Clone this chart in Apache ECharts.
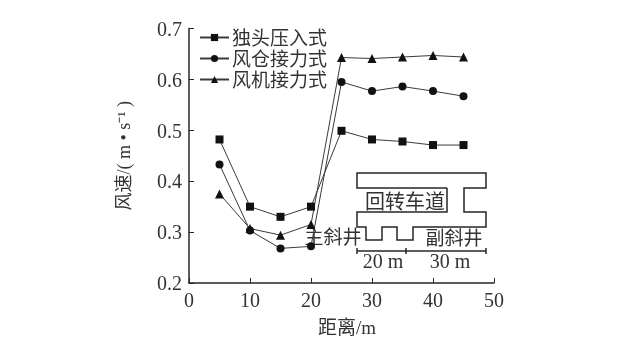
<!DOCTYPE html>
<html>
<head>
<meta charset="utf-8">
<style>html,body{margin:0;padding:0;background:#fff}#c{width:640px;height:362px}</style>
<script src="https://cdn.jsdelivr.net/npm/echarts@6/dist/echarts.min.js"></script>
</head>
<body>
<div id="c"></div>
<script>
var distances = [5, 10, 15, 20, 25, 30, 35, 40, 45];
var seriesNames = ['独头压入式', '风仓接力式', '风机接力式'];
var duTou = [0.482, 0.350, 0.330, 0.350, 0.499, 0.482, 0.478, 0.471, 0.471];
var fengCang = [0.433, 0.303, 0.268, 0.272, 0.595, 0.577, 0.586, 0.577, 0.567];
var fengJi = [0.375, 0.307, 0.294, 0.315, 0.643, 0.641, 0.644, 0.647, 0.644];

function pairs(v) { return v.map(function (y, i) { return [distances[i], y]; }); }

var LATIN = '"Liberation Serif", "Noto Sans CJK SC", serif';
var CJK = '"Noto Sans CJK SC", "Liberation Serif", sans-serif';
var INK = '#262626';

function mkSeries(name, values, symbol, size) {
  return {
    name: name, type: 'line', data: pairs(values), symbol: symbol, symbolSize: size,
    showAllSymbol: true, animation: false,
    lineStyle: { color: '#3a3a3a', width: 1 },
    itemStyle: { color: '#111' }
  };
}
function ln(pts) {
  return { type: 'polyline', silent: true, shape: { points: pts },
    style: { stroke: INK, lineWidth: 1.5, fill: null } };
}
function tx(x, y, t, size, font) {
  return { type: 'text', silent: true, x: x, y: y,
    style: { text: t, font: size + 'px ' + (font || CJK), fill: '#333', align: 'center', verticalAlign: 'middle' } };
}

var chart = echarts.init(document.getElementById('c'), null, { renderer: 'canvas' });
chart.setOption({
  backgroundColor: '#fff',
  animation: false,
  grid: { left: 189, right: 146, top: 28.5, bottom: 79 },
  legend: {
    left: 199, top: 27, orient: 'vertical', itemWidth: 29, itemHeight: 9, itemGap: 0,
    padding: 0, selectedMode: false,
    data: seriesNames,
    textStyle: { fontFamily: CJK, fontSize: 19, color: '#333', padding: [0, 0, 0, -2], lineHeight: 21 }
  },
  xAxis: {
    type: 'value', min: 0, max: 50, interval: 10,
    name: '距离/m', nameLocation: 'middle', nameGap: 37,
    nameTextStyle: { fontFamily: LATIN, fontSize: 19, color: '#333', padding: [0, 0, 0, 11] },
    axisLine: { show: true, onZero: false, lineStyle: { color: INK, width: 1.5 } },
    axisTick: { show: true, inside: true, length: 5, lineStyle: { color: INK, width: 1 } },
    axisLabel: { fontFamily: LATIN, fontSize: 20, color: '#333', margin: 9, showMinLabel: true, showMaxLabel: true },
    splitLine: { show: false }
  },
  yAxis: {
    type: 'value', min: 0.2, max: 0.7, interval: 0.1,
    name: '风速/( m • s⁻¹ )', nameLocation: 'middle', nameGap: 55, nameRotate: 90,
    nameTextStyle: { fontFamily: LATIN, fontSize: 18, color: '#333' },
    axisLine: { show: true, onZero: false, lineStyle: { color: INK, width: 1.5 } },
    axisTick: { show: true, inside: true, length: 5, lineStyle: { color: INK, width: 1 } },
    axisLabel: { fontFamily: LATIN, fontSize: 20, color: '#333', margin: 7, verticalAlign: 'top', lineHeight: 4,
      formatter: function (v) { return v.toFixed(1); } },
    splitLine: { show: false }
  },
  series: [
    mkSeries(seriesNames[0], duTou, 'rect', 8),
    mkSeries(seriesNames[1], fengCang, 'circle', 8),
    mkSeries(seriesNames[2], fengJi, 'triangle', 9)
  ],
  graphic: [
    ln([[447,188],[357,188],[357,173],[486,173],[486,188],[464,188],[464,212],[486,212],[486,227],
        [413,227],[413,240],[397,240],[397,227],[382,227],[382,240],[366,240],[366,227],[357,227],
        [357,212],[447,212],[447,188]]),
    ln([[357,251],[486,251]]),
    ln([[357,248],[357,254]]),
    ln([[406,248],[406,254]]),
    ln([[486,248],[486,254]]),
    tx(405, 201, '回转车道', 20),
    tx(454, 238, '副斜井', 19),
    tx(333, 237, '主斜井', 19),
    tx(383, 263, '20 m', 20, LATIN),
    tx(450, 263, '30 m', 20, LATIN)
  ]
});
</script>
</body>
</html>
